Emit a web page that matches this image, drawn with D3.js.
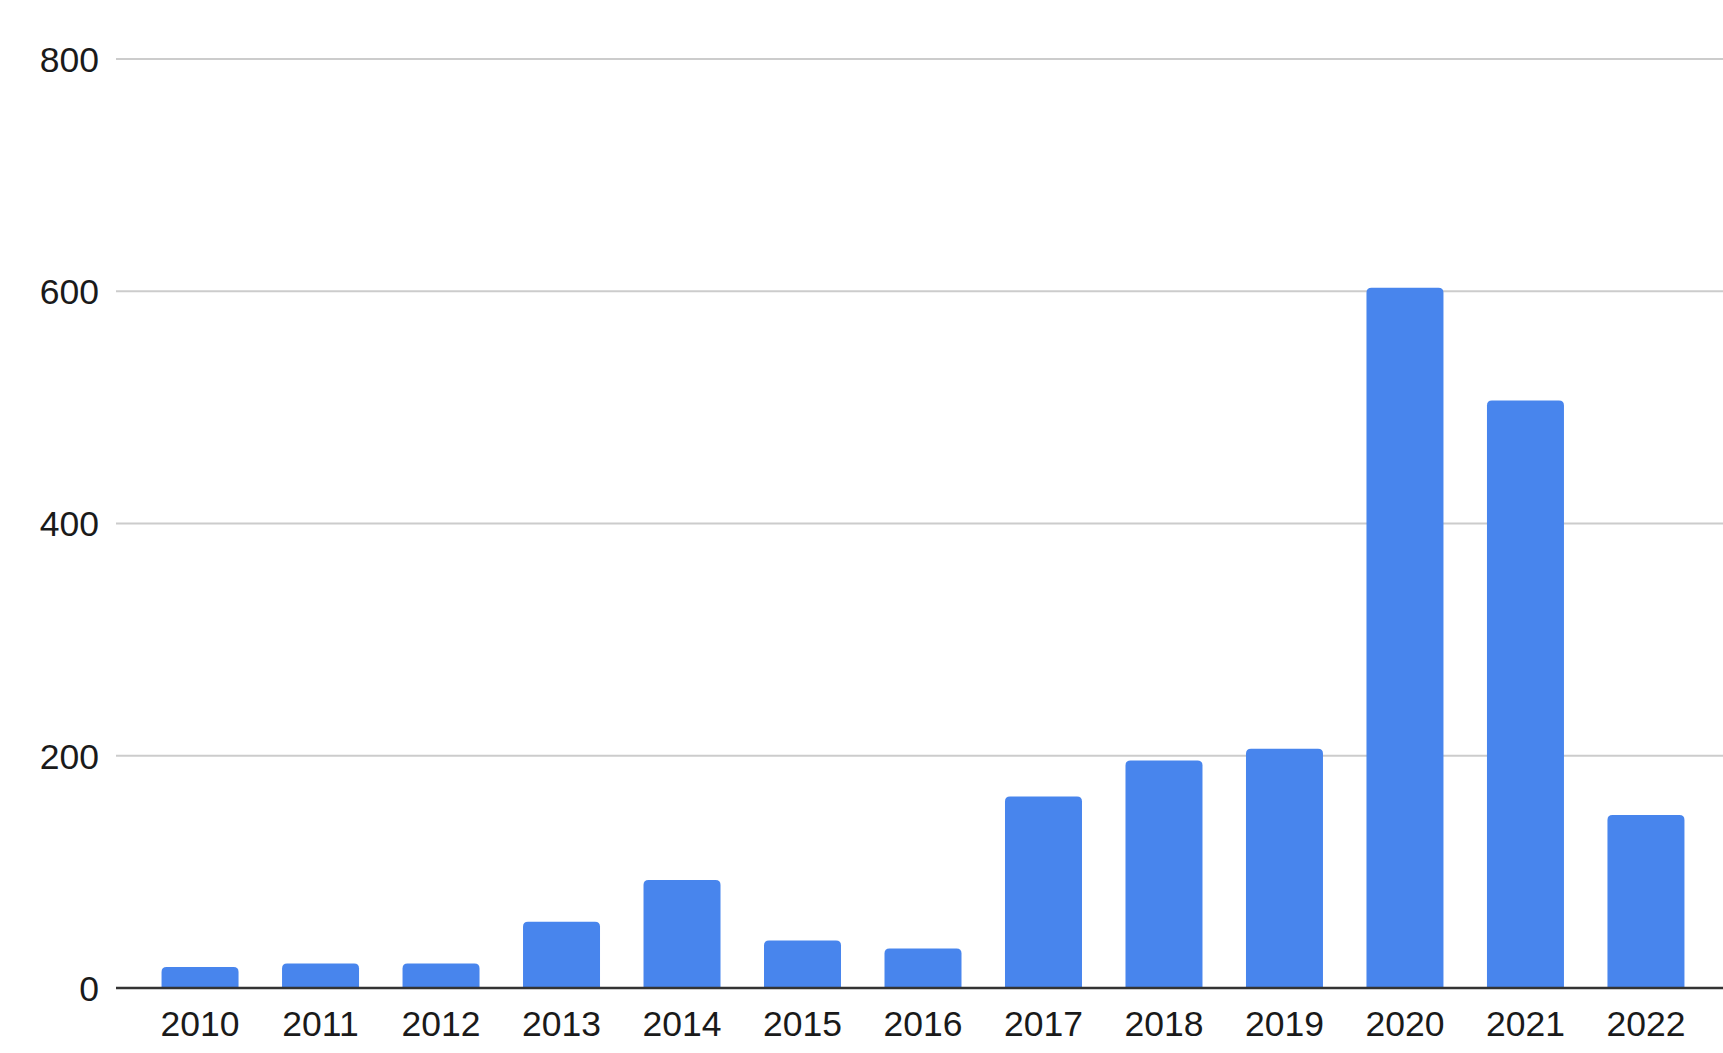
<!DOCTYPE html>
<html lang="en">
<head>
    <meta charset="utf-8">
    <title>Bar chart 2010-2022</title>
    <script src="https://d3js.org/d3.v7.min.js"></script>
<style>
    html, body { margin: 0; padding: 0; background: #fff; }
    #chart1 { width: 1723px; height: 1053px; }
    .tick-label { font-family: "Liberation Sans", Arial, sans-serif; font-size: 35.5px; fill: #1a1a1a; }
</style>
</head>
<body>
  <div id="chart1"></div>

<script>
    // data
    const years = ["2010","2011","2012","2013","2014","2015","2016","2017","2018","2019","2020","2021","2022"]
    const counts = [18, 21, 21, 57, 93, 41, 34, 165, 196, 206, 603, 506, 149]
    const yTicks = [0, 200, 400, 600, 800]

    const chartApp = {}

    chartApp.buildChart = () => {
        const width = 1723, height = 1053
        const margin = {top: 59, right: 0, bottom: 65, left: 116}

        const svg = d3.select("#chart1")
            .append("svg")
            .attr("width", width)
            .attr("height", height)

        // band range runs a little past the right edge, like the original
        const x = d3.scaleBand()
            .domain(years)
            .range([margin.left, 1730])
            .paddingInner(0.361)
            .paddingOuter(0.378)

        const y = d3.scaleLinear()
            .domain([0, 800])
            .range([height - margin.bottom, margin.top])

        // gridlines
        svg.append("g")
            .selectAll("line")
            .data(yTicks.filter(d => d !== 0))
            .join("line")
            .attr("x1", margin.left)
            .attr("x2", width)
            .attr("y1", d => y(d))
            .attr("y2", d => y(d))
            .attr("stroke", "#cccccc")
            .attr("stroke-width", 2)

        // y labels
        svg.append("g")
            .selectAll("text")
            .data(yTicks)
            .join("text")
            .attr("class", "tick-label")
            .attr("x", 99)
            .attr("y", d => y(d))
            .attr("dy", "0.36em")
            .attr("text-anchor", "end")
            .text(d => d)

        // bars with rounded top corners
        const r = 5
        const barPath = (d, i) => {
            const x0 = x(years[i]), w = x.bandwidth()
            const yt = y(d), yb = y(0)
            const rr = Math.min(r, (yb - yt))
            return `M${x0},${yb} V${yt + rr} Q${x0},${yt} ${x0 + rr},${yt} H${x0 + w - rr} Q${x0 + w},${yt} ${x0 + w},${yt + rr} V${yb} Z`
        }

        svg.append("g")
            .selectAll("path")
            .data(counts)
            .join("path")
            .attr("d", barPath)
            .attr("fill", "#4885ed")

        // baseline
        svg.append("line")
            .attr("x1", margin.left)
            .attr("x2", width)
            .attr("y1", y(0))
            .attr("y2", y(0))
            .attr("stroke", "#333333")
            .attr("stroke-width", 2.5)

        // x labels
        svg.append("g")
            .selectAll("text")
            .data(years)
            .join("text")
            .attr("class", "tick-label")
            .attr("x", d => x(d) + x.bandwidth() / 2)
            .attr("y", 1036)
            .attr("text-anchor", "middle")
            .text(d => d)
    }

    chartApp.buildChart()
</script>
</body>
</html>
